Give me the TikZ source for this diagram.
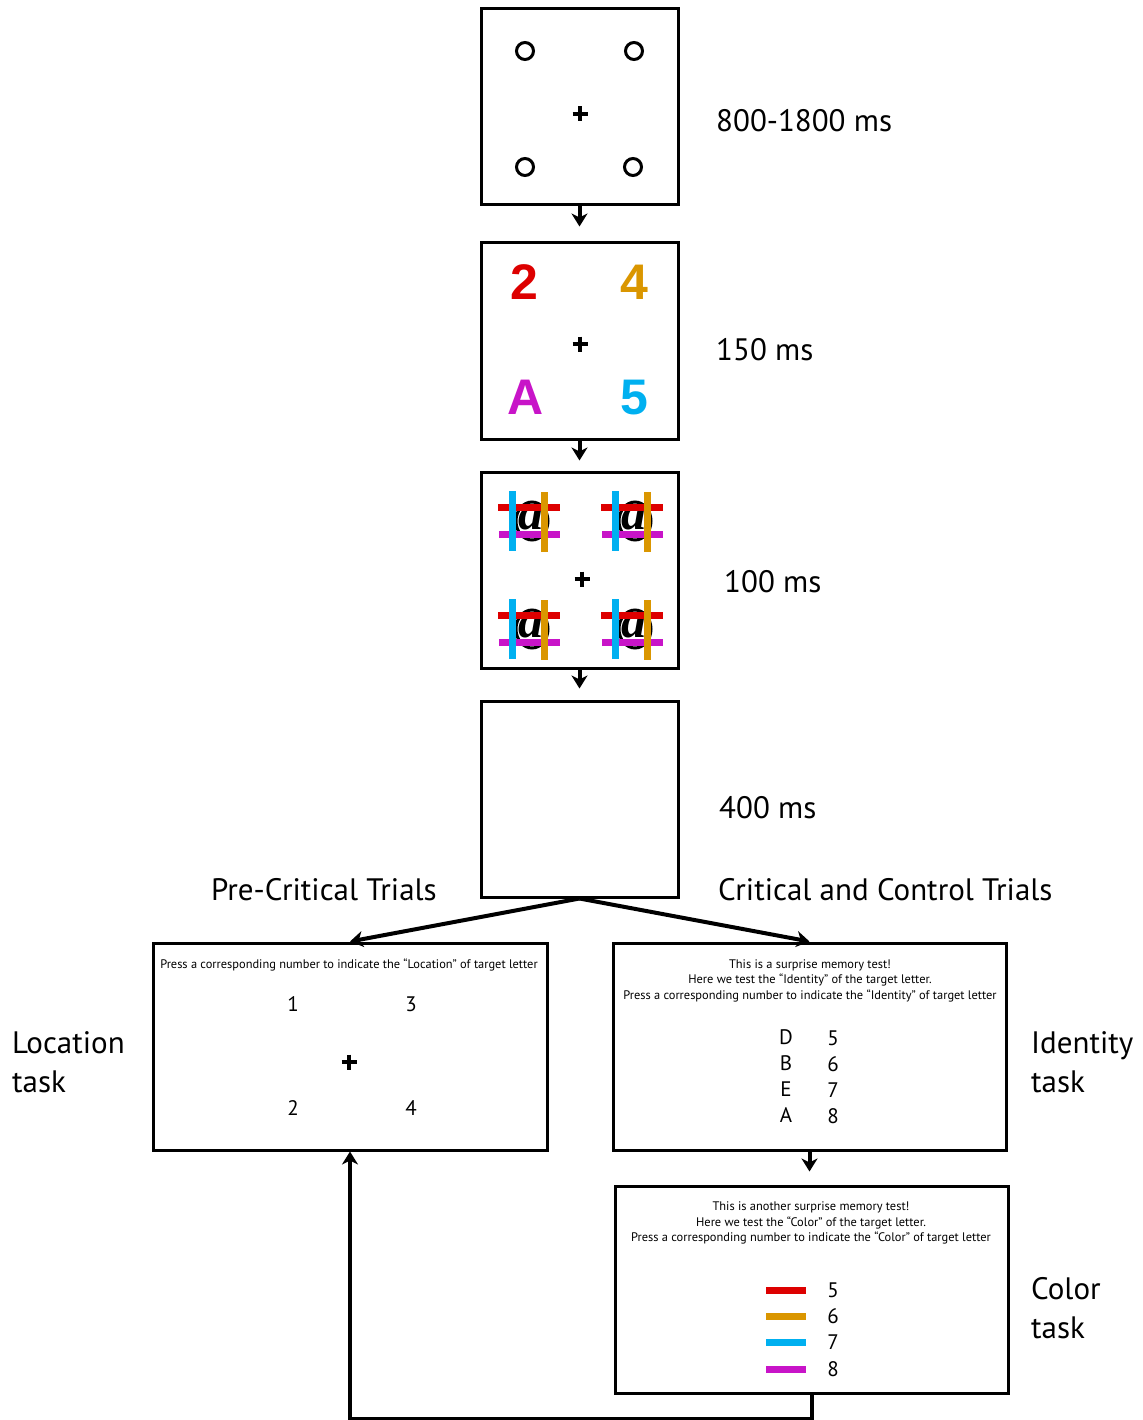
\documentclass[tikz,border=0pt]{standalone}
\usepackage{fontspec}
\setmainfont{PT Sans}
\newfontfamily\stimfont{Liberation Sans}
\newfontfamily\letterfont{Liberation Serif}
\usetikzlibrary{arrows.meta}
\definecolor{cred}{RGB}{221,0,0}
\definecolor{corange}{RGB}{218,150,0}
\definecolor{ccyan}{RGB}{0,176,240}
\definecolor{cmagenta}{RGB}{200,20,200}
\tikzset{
  frame/.style={draw, line width=3pt, minimum width=197pt, minimum height=196pt, inner sep=0pt},
  taskbox/.style={draw, line width=3pt, minimum height=207pt, inner sep=0pt},
  arr/.style={line width=4pt, -{Stealth[length=13pt,width=16pt,inset=4pt]}},
  timelbl/.style={anchor=west, font=\fontsize{31}{33}\selectfont, inner sep=0pt},
  instr/.style={font=\fontsize{12.4}{15.5}\selectfont, align=center, inner sep=0pt},
  resp/.style={font=\fontsize{21}{22}\selectfont, inner sep=0pt},
  bigchar/.style={font=\stimfont\bfseries\fontsize{50}{50}\selectfont, inner sep=0pt},
  fixcross/.pic={\draw[line width=3.5pt] (-7.5,0) -- (7.5,0) (0,-7.5) -- (0,7.5);},
  ring/.style={draw, line width=3pt, circle, minimum size=17pt, inner sep=0pt},
  maskpic/.pic={
    \draw[line width=3pt] (3,0) ellipse [x radius=16pt, y radius=19pt];
    \node[inner sep=0pt, font=\letterfont\bfseries\itshape\fontsize{50}{50}\selectfont] at (2,-3) {a};
    \draw[cred, line width=7pt] (-31,-14) -- (31,-14);
    \draw[cmagenta, line width=7pt] (-30,13) -- (31,13);
    \draw[ccyan, line width=7pt] (-17,-30) -- (-17,30);
    \draw[corange, line width=7pt] (15,-29) -- (15,31);
  }
}
\begin{document}
\begin{tikzpicture}[x=1pt, y=-1pt]
\useasboundingbox (0,0) rectangle (1142,1420);

% trial sequence frames
\node[frame] (fix) at (579.5,107) {};
\node[frame] (cue) at (579.5,341) {};
\node[frame] (stim) at (579.5,570) {};
\node[frame] (blank) at (579.5,799) {};

% fixation display with placeholders
\node[ring] (c1) at (525,51) {};
\node[ring] (c2) at (634,51) {};
\node[ring] (c3) at (525,167) {};
\node[ring] (c4) at (633,167) {};
\pic at (580,114) {fixcross};

% target display
\node[bigchar, text=cred] (t2) at (524,282) {2};
\node[bigchar, text=corange] (t4) at (634,282) {4};
\node[bigchar, text=cmagenta] (tA) at (526,397) {A};
\node[bigchar, text=ccyan] (t5) at (634,398) {5};
\pic at (580,344) {fixcross};

% masks
\pic at (529,521) {maskpic};
\pic at (632,521) {maskpic};
\pic at (529,629) {maskpic};
\pic at (632,629) {maskpic};
\pic at (582,579) {fixcross};

% durations
\node[timelbl] (d1) at (716,121) {800-1800 ms};
\node[timelbl] (d2) at (716,350) {150 ms};
\node[timelbl] (d3) at (724,582) {100 ms};
\node[timelbl] (d4) at (719,808) {400 ms};

% sequence arrows
\draw[arr, shorten >=15pt] (fix.south) -- (cue.north);
\draw[arr, shorten >=10pt] (cue.south) -- (stim.north);
\draw[arr, shorten >=11pt] (stim.south) -- (blank.north);

% branch labels
\node[timelbl] (pre) at (211,890) {Pre-Critical Trials};
\node[timelbl] (crit) at (718,890) {Critical and Control Trials};

% response screens
\node[taskbox, minimum width=394pt] (loc) at (350,1046.5) {};
\node[taskbox, minimum width=393pt] (ident) at (809.5,1046.5) {};
\node[taskbox, minimum width=393pt] (col) at (811.5,1289.5) {};

\draw[arr] (blank.south) -- (loc.north);
\draw[arr] (blank.south) -- (ident.north);
\draw[arr, shorten >=13pt] (ident.south) -- (ident.south |- col.north);
\draw[arr] (col.south) -- ++(0,24) -| (loc.south);

% location task
\node[instr] (locq) at (349,965) {Press a corresponding number to indicate the “Location” of target letter};
\node[resp] (l1) at (293,1004) {1};
\node[resp] (l3) at (411,1004) {3};
\node[resp] (l2) at (293,1108) {2};
\node[resp] (l4) at (411,1108) {4};
\pic at (349,1062) {fixcross};

% identity task
\node[instr] (idq) at (810,980.5) {This is a surprise memory test!\\Here we test the “Identity” of the target letter.\\Press a corresponding number to indicate the “Identity” of target letter};
\node[resp] (iD) at (786,1037) {D};
\node[resp] (iB) at (786,1063) {B};
\node[resp] (iE) at (786,1089) {E};
\node[resp] (iA) at (786,1115) {A};
\node[resp] (i5) at (833,1038) {5};
\node[resp] (i6) at (833,1064) {6};
\node[resp] (i7) at (833,1090) {7};
\node[resp] (i8) at (833,1116) {8};

% colour task
\node[instr] (colq) at (811,1223) {This is another surprise memory test!\\Here we test the “Color” of the target letter.\\Press a corresponding number to indicate the “Color” of target letter};
\draw[cred, line width=7pt] (766,1290) -- (806,1290);
\draw[corange, line width=7pt] (766,1316) -- (806,1316);
\draw[ccyan, line width=7pt] (766,1342) -- (806,1342);
\draw[cmagenta, line width=7pt] (766,1369) -- (806,1369);
\node[resp] (c5) at (833,1290) {5};
\node[resp] (c6) at (833,1316) {6};
\node[resp] (c7) at (833,1342) {7};
\node[resp] (c8) at (833,1369) {8};

% task names
\node[timelbl, align=left, font=\fontsize{31}{39}\selectfont] (loct) at (12,1062) {Location\\task};
\node[timelbl, align=left, font=\fontsize{31}{39}\selectfont] (idt) at (1031,1062) {Identity\\task};
\node[timelbl, align=left, font=\fontsize{31}{39}\selectfont] (colt) at (1031,1308) {Color\\task};
\end{tikzpicture}
\end{document}
